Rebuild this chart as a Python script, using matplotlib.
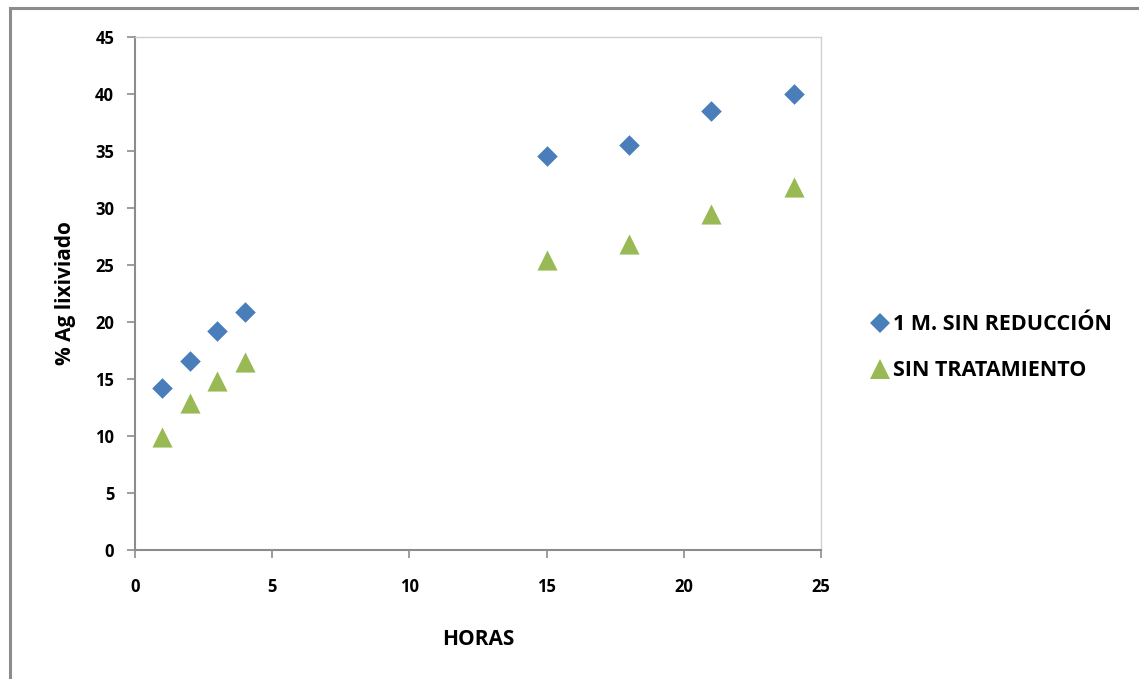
import matplotlib
matplotlib.use("Agg")
import matplotlib.pyplot as plt
from matplotlib.patches import Rectangle
from matplotlib.lines import Line2D

# Hours of leaching
horas = [1, 2, 3, 4, 15, 18, 21, 24]
# % Ag leached per condition
sin_reduccion = [14.2, 16.6, 19.2, 20.9, 34.6, 35.5, 38.5, 40.0]
sin_tratamiento = [9.9, 12.9, 14.8, 16.5, 25.4, 26.8, 29.5, 31.8]

series_labels = ["1 M. SIN REDUCCIÓN", "SIN TRATAMIENTO"]
x_ticks = [0, 5, 10, 15, 20, 25]
y_ticks = [0, 5, 10, 15, 20, 25, 30, 35, 40, 45]

BLUE = "#4A7EBB"
GREEN = "#98B954"

plt.rcParams["font.family"] = ["Open Sans", "DejaVu Sans"]

W, H = 1139, 679
fig = plt.figure(figsize=(W / 100, H / 100), dpi=100)
fig.patch.set_facecolor("white")

# outer chart frame
fig.add_artist(Rectangle((10 / W, -0.05), 1.2, (H - 8) / H + 0.05,
                         transform=fig.transFigure, fill=False,
                         edgecolor="#8c8c8c", linewidth=2.2))

left, right, top, bottom = 135, 821, 37, 550
ax = fig.add_axes([left / W, 1 - bottom / H, (right - left) / W, (bottom - top) / H])

ax.scatter(horas, sin_reduccion, marker="D", s=110, color=BLUE, linewidths=0, zorder=3)
ax.scatter(horas, sin_tratamiento, marker="^", s=210, color=GREEN, linewidths=0, zorder=3)

ax.set_xlim(0, 25)
ax.set_ylim(0, 45)
ax.set_xticks(x_ticks)
ax.set_yticks(y_ticks)

for side in ("top", "right"):
    ax.spines[side].set_color("#d0d0d0")
    ax.spines[side].set_linewidth(1.0)
for side in ("left", "bottom"):
    ax.spines[side].set_color("#8c8c8c")
    ax.spines[side].set_linewidth(1.5)

ax.tick_params(axis="both", direction="out", length=6, width=1.2, color="#8c8c8c",
               labelsize=12)
ax.tick_params(axis="x", pad=14)
ax.tick_params(axis="y", pad=9)
for lab in ax.get_xticklabels() + ax.get_yticklabels():
    lab.set_fontweight("bold")

ax.set_xlabel("HORAS", fontsize=15, fontweight="bold", labelpad=24)
ax.set_ylabel("% Ag lixiviado", fontsize=15, fontweight="bold", labelpad=14)

handles = [
    Line2D([], [], marker="D", linestyle="none", color=BLUE, markersize=10, markeredgewidth=0),
    Line2D([], [], marker="^", linestyle="none", color=GREEN, markersize=14, markeredgewidth=0),
]
leg = fig.legend(handles, series_labels, loc="upper left",
                 bbox_to_anchor=(853 / W, 1 - 295 / H), frameon=False,
                 prop={"size": 15.5, "weight": "bold"}, handlelength=0.7,
                 handletextpad=0.25, labelspacing=1.15)

fig.savefig("out.png", dpi=100, facecolor="white")
